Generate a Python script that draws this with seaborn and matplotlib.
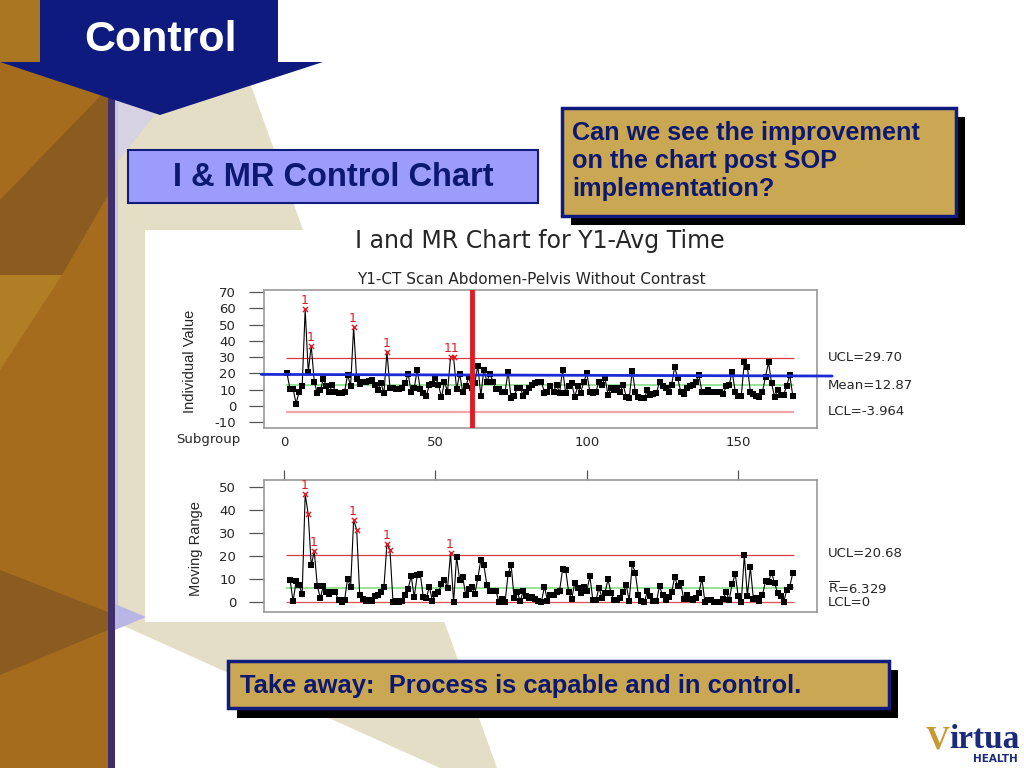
import numpy as np
import pandas as pd
import matplotlib
matplotlib.use("Agg")
import matplotlib.pyplot as plt
import matplotlib.transforms as mtransforms
from matplotlib.patches import Polygon, Rectangle
import seaborn as sns

# Y1 - CT Scan Abdomen-Pelvis, individual values for subgroups 1..168
values = [
    20, 10.2, 10.5, 1.5, 8.8, 12.3, 59.3, 21, 37, 14.9,
    7.8, 9.6, 16.7, 12.3, 8.8, 13, 8.8, 7.9, 8, 8.8,
    19, 12.5, 48.3, 16.7, 13.5, 15, 14.5, 15.3, 15.7, 13,
    10, 14.3, 7.8, 33.3, 10.8, 10.8, 10.4, 10.2, 10.8, 13.9,
    19.8, 8.5, 10.8, 22.4, 10.2, 8, 6.3, 13, 13.7, 17.4,
    13, 5.3, 15, 8.8, 30, 30, 10.2, 19.8, 8.8, 12,
    17.6, 10.8, 14.3, 24.7, 6.3, 22.4, 15, 19.8, 15, 10.2,
    10.2, 8.8, 8.8, 21, 4.7, 6.3, 10.8, 11.1, 6.3, 8.8,
    10.8, 13, 14.3, 15, 15, 8.2, 8.8, 12, 8.8, 13,
    8, 22.4, 8.2, 12.5, 13.9, 5.7, 12, 8.2, 15, 20,
    8.8, 8, 8.8, 15, 13, 17, 7, 10.8, 9.8, 10.8,
    8.8, 13, 5.7, 5, 21.6, 8.8, 5.7, 5, 5, 9.8,
    7, 7.6, 8, 15, 12, 11.1, 8.8, 13, 24, 17,
    8.8, 7.6, 10.8, 12, 13, 15, 19, 8.8, 8.8, 9.8,
    8.8, 8.8, 8.8, 8.8, 7.6, 12, 13, 21, 8.8, 6.3,
    6.3, 26.8, 24, 8.8, 7.6, 6, 5.7, 8.8, 18, 26.8,
    13.9, 5.7, 9.8, 7, 7, 12.3, 19, 6.3,
]

# out-of-control subgroups (test 1) as flagged on the slide
i_flagged = [7, 9, 23, 34, 55, 56]
i_labelled = [7, 9, 23, 34, 55.5]
i_label_text = ["1", "1", "1", "1", "11"]
mr_flagged = [7, 8, 10, 23, 24, 34, 35, 55]
mr_labelled = [7, 10, 23, 34, 55]

i_ucl, i_mean, i_lcl = 29.70, 12.87, -3.964
mr_ucl, mr_bar, mr_lcl = 20.68, 6.329, 0.0

trend_x = [-7.5, 181]
trend_y = [19.4, 18.4]
sop_subgroup = 62

x_ticks = [0, 50, 100, 150]
i_yticks = [-10, 0, 10, 20, 30, 40, 50, 60, 70]
mr_yticks = [0, 10, 20, 30, 40, 50]

df = pd.DataFrame({"Subgroup": np.arange(1, len(values) + 1), "Value": values})
df["MR"] = df["Value"].diff().abs()
mr = df.dropna(subset=["MR"])

NAVY = "#101b7c"
TEXT_NAVY = "#0d1870"
GOLD = "#c9a753"
RED = "#e01b24"

sns.set_theme(style="white")
plt.rcParams["font.family"] = ["DejaVu Sans"]
plt.rcParams["axes.unicode_minus"] = False

fig = plt.figure(figsize=(10.24, 7.68), dpi=100)

# ---- slide background (pixel coordinates) ----
bg = fig.add_axes([0, 0, 1, 1], zorder=0)
bg.set_xlim(0, 1024)
bg.set_ylim(768, 0)
bg.axis("off")


def poly(pts, color, z=1, **kw):
    bg.add_patch(Polygon(pts, closed=True, facecolor=color, edgecolor="none", zorder=z, **kw))


poly([(115, 95), (240, 55), (497, 768), (440, 768), (115, 622)], "#e5dec6", 1)
poly([(115, 98), (168, 98), (115, 165)], "#d6d2e2", 1.1)
bg.add_patch(Rectangle((145, 230), 879, 392, facecolor="white", edgecolor="none", zorder=2))
poly([(115, 604), (146, 617), (115, 630)], "#b9b5e4", 3)

bg.add_patch(Rectangle((0, 0), 108, 768, facecolor="#a46c1c", edgecolor="none", zorder=1))
poly([(0, 200), (108, 88), (108, 195), (62, 275), (0, 275)], "#8b5b1f", 1.2)
poly([(0, 275), (62, 275), (0, 370)], "#b07e24", 1.2)
poly([(0, 570), (108, 612), (108, 630), (0, 675)], "#8b5b1f", 1.2)
poly([(0, 0), (40, 0), (40, 62), (0, 62)], "#a87620", 1.2)
bg.add_patch(Rectangle((108, 0), 7, 768, facecolor="#3e2e6c", edgecolor="none", zorder=1.5))
bg.add_patch(Rectangle((115, 95), 3, 527, facecolor="#c9c6df", edgecolor="none", zorder=1.5))

poly([(40, 0), (278, 0), (278, 62), (323, 62), (160, 115), (0, 62), (40, 62)], "#0e1a7e", 5)
bg.text(160, 40, "Control", color="white", fontsize=31, fontweight="bold",
        family="Liberation Sans", ha="center", va="center", zorder=6)

bg.add_patch(Rectangle((128, 150), 410, 53, facecolor="#9c9cfc", edgecolor=NAVY, lw=1.5, zorder=5))
bg.text(333, 178, "I & MR Control Chart", color=TEXT_NAVY, fontsize=23.5, fontweight="bold",
        family="Liberation Sans", ha="center", va="center", zorder=6)

bg.add_patch(Rectangle((571, 117), 394, 108, facecolor="black", edgecolor="none", zorder=5))
bg.add_patch(Rectangle((562, 108), 394, 108, facecolor=GOLD, edgecolor=NAVY, lw=2.5, zorder=6))
bg.text(572, 161, "Can we see the improvement\non the chart post SOP\nimplementation?",
        color=TEXT_NAVY, fontsize=18.2, fontweight="bold", family="Liberation Sans",
        ha="left", va="center", linespacing=1.2, zorder=7)

bg.add_patch(Rectangle((237, 670), 661, 48, facecolor="black", edgecolor="none", zorder=5))
bg.add_patch(Rectangle((228, 661), 661, 47, facecolor=GOLD, edgecolor=NAVY, lw=2.5, zorder=6))
bg.text(240, 686, "Take away:  Process is capable and in control.", color=TEXT_NAVY,
        fontsize=18.4, fontweight="bold", family="Liberation Sans", ha="left", va="center", zorder=7)

# logo
bg.text(938, 740, "V", color="#c79a35", fontsize=24, fontweight="bold",
        family="Liberation Serif", ha="center", va="center", zorder=6)
bg.text(1020, 740, "irtua", color="#1c2a7a", fontsize=24, fontweight="bold",
        family="Liberation Serif", ha="right", va="center", zorder=6)
bg.text(1018, 759, "HEALTH", color="#1c2a7a", fontsize=7.5, fontweight="bold",
        family="DejaVu Sans", ha="right", va="center", zorder=6)

# chart titles and labels
bg.text(540, 241, "I and MR Chart for Y1-Avg Time", fontsize=17, ha="center", va="center", zorder=6)
bg.text(531, 279, "Y1-CT Scan Abdomen-Pelvis Without Contrast", fontsize=11,
        ha="center", va="center", zorder=6)
bg.text(240, 440, "Subgroup", fontsize=9.5, ha="right", va="center", zorder=6)
bg.text(190, 361, "Individual Value", fontsize=10.5, rotation=90, ha="center", va="center",
        family="Liberation Sans", zorder=6)
bg.text(196, 549, "Moving Range", fontsize=10.5, rotation=90, ha="center", va="center",
        family="Liberation Sans", zorder=6)

# ---- control charts ----
ax1 = fig.add_axes([264 / 1024, 1 - 428 / 768, 553 / 1024, 138 / 768], zorder=3)
ax2 = fig.add_axes([264 / 1024, 1 - 612 / 768, 553 / 1024, 132 / 768], zorder=3)

n = len(values)
for ax in (ax1, ax2):
    ax.set_facecolor("white")
    for s in ax.spines.values():
        s.set_visible(True)
        s.set_color("#9a9a9a")
        s.set_linewidth(1.2)
    ax.set_xlim(-6.6, 176)
    ax.set_xticks(x_ticks)
    ax.tick_params(axis="y", left=True, length=11, width=0.9, color="#555555", pad=9,
                   labelsize=9.5, direction="out")

# individuals chart
ax1.set_ylim(-13.5, 71.2)
ax1.set_yticks(i_yticks)
ax1.tick_params(axis="x", bottom=True, length=0, pad=6, labelsize=9.5)
ax1.hlines(i_ucl, 0.7, n + 0.5, color="#d43c46", lw=0.9, zorder=2)
ax1.hlines(i_lcl, 0.7, n + 0.5, color="#f3a3ab", lw=1.6, zorder=2)
ax1.hlines(i_mean, 0.7, n + 0.5, color="#86dc86", lw=1.2, zorder=2)
sns.lineplot(data=df, x="Subgroup", y="Value", ax=ax1, color="black", lw=0.8, zorder=3)
ok = df[~df["Subgroup"].isin(i_flagged)]
bad = df[df["Subgroup"].isin(i_flagged)]
sns.scatterplot(data=ok, x="Subgroup", y="Value", ax=ax1, color="black", marker="s",
                s=17, linewidth=0, zorder=4)
sns.scatterplot(data=bad, x="Subgroup", y="Value", ax=ax1, color=RED, marker="x",
                s=14, linewidth=1, zorder=4)
for sg, txt in zip(i_labelled, i_label_text):
    yv = df.loc[df["Subgroup"].between(sg - 0.5, sg + 0.5), "Value"].max()
    ax1.annotate(txt, (sg, yv), xytext=(-0.5, 1.5), textcoords="offset points",
                 color=RED, fontsize=9, ha="center", va="bottom", zorder=5)
ax1.plot(trend_x, trend_y, color="#1a2bd6", lw=2, clip_on=False, zorder=5)
ax1.axvline(sop_subgroup, color=RED, lw=3.5, zorder=6)
ax1.set_xlabel("")
ax1.set_ylabel("")

tr1 = mtransforms.blended_transform_factory(ax1.transAxes, ax1.transData)
ax1.text(1.02, i_ucl, "UCL=29.70", transform=tr1, fontsize=9.5, va="center")
ax1.text(1.02, i_mean - 0.5, "Mean=12.87", transform=tr1, fontsize=9.5, va="center")
ax1.text(1.02, i_lcl + 0.6, "LCL=-3.964", transform=tr1, fontsize=9.5, va="center")

# moving range chart
ax2.set_ylim(-4.3, 53.2)
ax2.set_yticks(mr_yticks)
ax2.xaxis.tick_top()
ax2.set_xticklabels([])
ax2.tick_params(axis="x", top=True, bottom=False, length=7, width=0.9, color="#555555",
                direction="out")
ax2.hlines(mr_ucl, 0.7, n + 0.5, color="#d43c46", lw=0.9, zorder=2)
ax2.hlines(mr_lcl, 0.7, n + 0.5, color="#e05058", lw=0.9, zorder=2)
ax2.hlines(mr_bar, 0.7, n + 0.5, color="#86dc86", lw=1.2, zorder=2)
sns.lineplot(data=mr, x="Subgroup", y="MR", ax=ax2, color="black", lw=0.8, zorder=3)
ok2 = mr[~mr["Subgroup"].isin(mr_flagged)]
bad2 = mr[mr["Subgroup"].isin(mr_flagged)]
sns.scatterplot(data=ok2, x="Subgroup", y="MR", ax=ax2, color="black", marker="s",
                s=17, linewidth=0, zorder=4)
sns.scatterplot(data=bad2, x="Subgroup", y="MR", ax=ax2, color=RED, marker="x",
                s=14, linewidth=1, zorder=4)
for _, r in mr[mr["Subgroup"].isin(mr_labelled)].iterrows():
    ax2.annotate("1", (r["Subgroup"], r["MR"]), xytext=(-0.5, 1.5), textcoords="offset points",
                 color=RED, fontsize=9, ha="center", va="bottom", zorder=5)
ax2.set_xlabel("")
ax2.set_ylabel("")

tr2 = mtransforms.blended_transform_factory(ax2.transAxes, ax2.transData)
ax2.text(1.02, mr_ucl + 0.5, "UCL=20.68", transform=tr2, fontsize=9.5, va="center")
ax2.text(1.02, mr_bar - 0.4, r"$\overline{\mathrm{R}}$=6.329", transform=tr2, fontsize=9.5,
         va="center")
ax2.text(1.02, mr_lcl, "LCL=0", transform=tr2, fontsize=9.5, va="center")

fig.savefig("out.png", dpi=100)
